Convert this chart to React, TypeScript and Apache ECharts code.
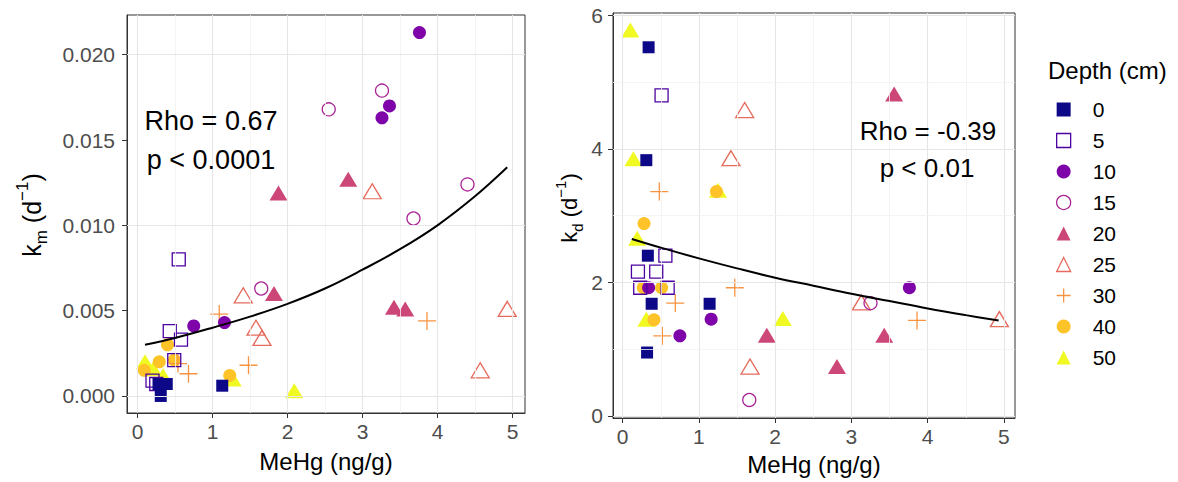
import React, { useEffect, useRef } from "react";
import * as echarts from "echarts";

// ---------- data ----------
const depths = ["0", "5", "10", "15", "20", "25", "30", "40", "50"];

// left panel: k_m vs MeHg
const km0 = [[0.28, 0.0007], [0.39, 0.0007], [0.31, 0.0], [1.13, 0.0006]];
const km5 = [[0.55, 0.008], [0.43, 0.0038], [0.58, 0.0033], [0.49, 0.0021], [0.2, 0.0009], [0.25, 0.0007]];
const km10 = [[3.76, 0.0213], [3.36, 0.017], [3.26, 0.0163], [0.75, 0.0041], [1.16, 0.0043]];
const km15 = [[4.4, 0.0124], [3.68, 0.0104], [3.26, 0.0179], [2.55, 0.0168], [1.65, 0.0063]];
const km20 = [[1.88, 0.0119], [2.81, 0.0127], [1.82, 0.006], [3.42, 0.0052], [3.57, 0.0051]];
const km25 = [[3.13, 0.012], [1.41, 0.0059], [1.58, 0.004], [1.66, 0.0034], [4.93, 0.0051], [4.57, 0.0015]];
const km30 = [[1.09, 0.0048], [3.86, 0.0044], [1.48, 0.0018], [0.68, 0.0013], [0.54, 0.0019]];
const km40 = [[0.4, 0.003], [0.49, 0.0021], [0.29, 0.002], [0.09, 0.0015], [1.23, 0.0012]];
const km50 = [[0.1, 0.002], [0.21, 0.0016], [0.34, 0.0012], [1.27, 0.001], [2.09, 0.0003]];

// right panel: k_d vs MeHg
const kd0 = [[0.34, 5.52], [0.31, 3.83], [0.33, 2.4], [0.38, 1.68], [1.14, 1.68], [0.32, 0.95]];
const kd5 = [[0.51, 4.8], [0.56, 2.4], [0.2, 2.16], [0.44, 2.16], [0.23, 1.92], [0.59, 1.92]];
const kd10 = [[3.76, 1.92], [0.34, 1.92], [1.16, 1.45], [0.75, 1.2]];
const kd15 = [[1.66, 0.24], [3.25, 1.69]];
const kd20 = [[3.56, 4.82], [1.89, 1.21], [3.43, 1.21], [2.81, 0.74]];
const kd25 = [[1.6, 4.58], [1.42, 3.86], [1.67, 0.74], [3.13, 1.7], [4.94, 1.45]];
const kd30 = [[0.48, 3.36], [0.69, 1.69], [1.47, 1.92], [0.52, 1.2], [3.86, 1.43]];
const kd40 = [[1.23, 3.36], [0.28, 2.88], [0.27, 1.92], [0.51, 1.92], [0.41, 1.44]];
const kd50 = [[0.1, 5.78], [0.14, 3.85], [0.19, 2.66], [0.31, 1.45], [1.25, 3.38], [2.1, 1.46]];

// fitted curves
const kmFitX = [0.1, 0.5, 1, 1.5, 2, 2.5, 3, 3.5, 4, 4.5, 4.93];
const kmFitY = [0.003, 0.0034, 0.004, 0.00465, 0.0054, 0.0063, 0.0074, 0.0086, 0.01, 0.0117, 0.0134];
const kdFitX = [0.12, 0.5, 1, 1.5, 2, 2.5, 3, 3.5, 4, 4.5, 4.93];
const kdFitY = [2.65, 2.52, 2.36, 2.21, 2.07, 1.95, 1.83, 1.72, 1.61, 1.51, 1.43];

// ticks / grid values
const xTicks = [0, 1, 2, 3, 4, 5];
const xMinor = [0.5, 1.5, 2.5, 3.5, 4.5];
const kmTicks = [0, 0.005, 0.01, 0.015, 0.02];
const kmMinor = [0.0025, 0.0075, 0.0125, 0.0175];
const kdTicks = [0, 2, 4, 6];
const kdMinor = [1, 3, 5];

// ---------- styles ----------
const FONT = "'Liberation Sans', Arial, Helvetica, sans-serif";
const PLUS = "path://M0,5L10,5M5,0L5,10";
const depthStyles = [
  { symbol: "rect", filled: true, color: "#0D0887", size: 12 },
  { symbol: "rect", filled: false, color: "#4C02A1", size: 13 },
  { symbol: "circle", filled: true, color: "#7E03A8", size: 13 },
  { symbol: "circle", filled: false, color: "#A92395", size: 13 },
  { symbol: "triangle", filled: true, color: "#CC4678", size: [18, 15] },
  { symbol: "triangle", filled: false, color: "#E56B5D", size: [18, 15] },
  { symbol: PLUS, filled: false, color: "#F89441", size: 18 },
  { symbol: "circle", filled: true, color: "#FDC328", size: 13 },
  { symbol: "triangle", filled: true, color: "#F0F921", size: [18, 15] },
];

function itemStyleFor(s: any) {
  return s.filled
    ? { color: s.color, borderWidth: 0, opacity: 1 }
    : { color: "rgba(0,0,0,0)", borderColor: s.color, borderWidth: 1.3, opacity: 1 };
}

const kmSets = [km0, km5, km10, km15, km20, km25, km30, km40, km50];
const kdSets = [kd0, kd5, kd10, kd15, kd20, kd25, kd30, kd40, kd50];

function gridLines(major: number[], minor: number[], key: "xAxis" | "yAxis") {
  return [
    ...minor.map((v) => ({ [key]: v, lineStyle: { color: "#F1F1F1", width: 0.8, type: "solid" } })),
    ...major.map((v) => ({ [key]: v, lineStyle: { color: "#E6E6E6", width: 1.1, type: "solid" } })),
  ];
}

function gridSeries(idx: number, yMajor: number[], yMinor: number[]) {
  return {
    type: "line",
    xAxisIndex: idx,
    yAxisIndex: idx,
    data: [],
    z: 1,
    silent: true,
    markLine: {
      silent: true,
      symbol: ["none", "none"],
      label: { show: false },
      emphasis: { disabled: true },
      animation: false,
      data: [...gridLines(xTicks, xMinor, "xAxis"), ...gridLines(yMajor, yMinor, "yAxis")],
    },
  };
}

function scatterSeries(idx: number, sets: number[][][]) {
  const out: any[] = [];
  for (let d = depths.length - 1; d >= 0; d--) {
    const s = depthStyles[d];
    out.push({
      type: "scatter",
      name: depths[d],
      xAxisIndex: idx,
      yAxisIndex: idx,
      data: sets[d],
      symbol: s.symbol,
      symbolSize: s.size,
      itemStyle: itemStyleFor(s),
      z: 3,
      silent: true,
      emphasis: { disabled: true },
    });
  }
  return out;
}

function fitSeries(idx: number, xs: number[], ys: number[]) {
  return {
    type: "line",
    xAxisIndex: idx,
    yAxisIndex: idx,
    data: xs.map((x, i) => [x, ys[i]]),
    smooth: 0.4,
    symbol: "none",
    showSymbol: false,
    lineStyle: { color: "#000", width: 2 },
    z: 5,
    silent: true,
  };
}

function xAxisCfg(idx: number, min: number, max: number, nameGap: number, fs: number) {
  return {
    gridIndex: idx,
    type: "value",
    min,
    max,
    axisLine: { show: true, onZero: false, lineStyle: { color: "#333", width: 1 } },
    axisTick: { show: true, length: 5, customValues: xTicks, lineStyle: { color: "#333" } },
    axisLabel: { customValues: xTicks, margin: 8, fontSize: fs, color: "#4D4D4D", fontFamily: FONT },
    splitLine: { show: false },
    name: "MeHg (ng/g)",
    nameLocation: "middle",
    nameGap,
    nameTextStyle: { fontSize: 24, color: "#000", fontFamily: FONT },
  };
}

function yAxisCfg(idx: number, min: number, max: number, ticks: number[], fmt: (v: number) => string, fs: number, margin: number) {
  return {
    gridIndex: idx,
    type: "value",
    min,
    max,
    axisLine: { show: true, onZero: false, lineStyle: { color: "#333", width: 1 } },
    axisTick: { show: true, length: 5, customValues: ticks, lineStyle: { color: "#333" } },
    axisLabel: { customValues: ticks, margin, fontSize: fs, color: "#4D4D4D", fontFamily: FONT, formatter: fmt },
    splitLine: { show: false },
  };
}

function yTitle(x: number, y: number, sub: string, fs: number) {
  const small = Math.round(fs * 0.68);
  return {
    type: "text",
    x,
    y,
    z: 10,
    rotation: Math.PI / 2,
    style: {
      text: `{a|k}{s|${sub}}{a| (d}{p|\u22121}{a|)}`,
      align: "center",
      verticalAlign: "middle",
      rich: {
        a: { fontSize: fs, fontFamily: FONT, fill: "#000", lineHeight: fs * 1.45 },
        s: { fontSize: small, fontFamily: FONT, fill: "#000", lineHeight: small, verticalAlign: "bottom" },
        p: { fontSize: small, fontFamily: FONT, fill: "#000", lineHeight: small, verticalAlign: "top" },
      },
    },
  };
}

function label(x: number, y: number, text: string, fs: number, align = "center") {
  return {
    type: "text",
    x,
    y,
    z: 10,
    style: { text, fontSize: fs, fontFamily: FONT, fill: "#000", align, verticalAlign: "middle" },
  };
}

export default function App() {
  const ref = useRef<HTMLDivElement>(null);
  useEffect(() => {
    const chart = echarts.init(ref.current!, null, { renderer: "svg" });
    const option: any = {
      animation: false,
      backgroundColor: "#fff",
      grid: [
        { left: 127, top: 15, width: 398, height: 398, show: true, borderColor: "#333", borderWidth: 1, backgroundColor: "#fff" },
        { left: 613, top: 13, width: 402, height: 405, show: true, borderColor: "#333", borderWidth: 1, backgroundColor: "#fff" },
      ],
      xAxis: [xAxisCfg(0, -0.14, 5.167, 36, 21), xAxisCfg(1, -0.127, 5.145, 34, 21)],
      yAxis: [
        yAxisCfg(0, -0.001, 0.02233, kmTicks, (v: number) => v.toFixed(3), 21, 12),
        yAxisCfg(1, -0.03, 6.033, kdTicks, (v: number) => String(v), 21, 10),
      ],
      legend: {
        orient: "vertical",
        left: 1056,
        top: 99,
        padding: 0,
        itemWidth: 14,
        itemHeight: 14,
        itemGap: 10,
        symbolKeepAspect: true,
        selectedMode: false,
        textStyle: { fontSize: 21, color: "#000", fontFamily: FONT, padding: [0, 0, 0, 17] },
        data: depths.map((name, i) => ({
          name,
          icon: depthStyles[i].symbol,
          itemStyle: itemStyleFor(depthStyles[i]),
        })),
      },
      series: [
        gridSeries(0, kmTicks, kmMinor),
        gridSeries(1, kdTicks, kdMinor),
        ...scatterSeries(0, kmSets),
        ...scatterSeries(1, kdSets),
        fitSeries(0, kmFitX, kmFitY),
        fitSeries(1, kdFitX, kdFitY),
      ],
      graphic: [
        yTitle(32, 215, "m", 25),
        yTitle(569, 208, "d", 22),
        label(211, 121, "Rho = 0.67", 27),
        label(211, 160, "p < 0.0001", 27),
        label(928, 131, "Rho = -0.39", 26),
        label(927, 168, "p < 0.01", 26),
        label(1048, 70, "Depth (cm)", 24, "left"),
      ],
    };
    chart.setOption(option);
    return () => chart.dispose();
  }, []);
  return (
    <div
      ref={ref}
      style={{ position: "absolute", left: 0, top: 0, width: 1178, height: 482, background: "#fff" }}
    />
  );
}
